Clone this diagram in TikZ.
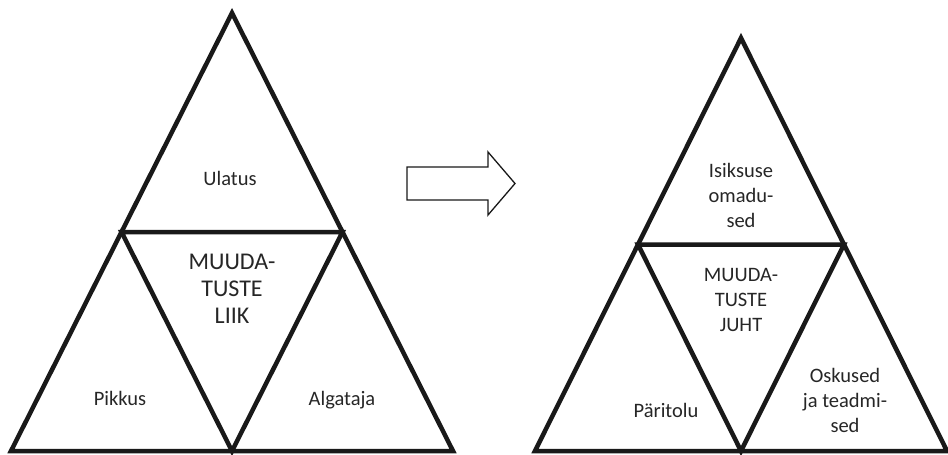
\documentclass[tikz,border=0pt]{standalone}
\usepackage{fontspec}
\setmainfont{Carlito}
\usetikzlibrary{calc}
\tikzset{
  tri/.style={line width=4.5pt, line join=miter, black!90},
  lbl/.style={font=\fontsize{20.5}{25}\selectfont, text=black!85, inner sep=0pt, align=center, anchor=base},
  biglbl/.style={font=\fontsize{24}{27}\selectfont, text=black!85, inner sep=0pt, align=center, anchor=base},
  blockarrow/.style={line width=1.3pt, black!90, line join=miter}
}
\begin{document}
\begin{tikzpicture}[x=1pt,y=-1pt]
\useasboundingbox (0,0) rectangle (948,455);
% left triangle
\coordinate (LA) at (232,13);
\coordinate (LL) at (11,451);
\coordinate (LR) at (453,451);
\coordinate (LML) at ($(LA)!0.5!(LL)$);
\coordinate (LMR) at ($(LA)!0.5!(LR)$);
\coordinate (LMB) at ($(LL)!0.5!(LR)$);
\draw[tri] (LA) -- (LL) -- (LR) -- cycle;
\draw[tri] (LML) -- (LMR) -- (LMB) -- cycle;
% right triangle
\coordinate (RA) at (741,38);
\coordinate (RL) at (535,451);
\coordinate (RR) at (947,451);
\coordinate (RML) at ($(RA)!0.5!(RL)$);
\coordinate (RMR) at ($(RA)!0.5!(RR)$);
\coordinate (RMB) at ($(RL)!0.5!(RR)$);
\draw[tri] (RA) -- (RL) -- (RR) -- cycle;
\draw[tri] (RML) -- (RMR) -- (RMB) -- cycle;
% block arrow between the two
\draw[blockarrow] (407,167) -- (488,167) -- (488,152) -- (515,183.5)
  -- (488,215) -- (488,200) -- (407,200) -- cycle;
% labels, left (base anchor = baseline of the last line)
\node[lbl] (ulatus) at (230,185) {Ulatus};
\node[biglbl] (liik) at (232,323) {MUUDA-\\TUSTE\\LIIK};
\node[lbl] (pikkus) at (120,405) {Pikkus};
\node[lbl] (algataja) at (342,405) {Algataja};
% labels, right
\node[lbl] (isiksus) at (741,227) {Isiksuse\\omadu-\\sed};
\node[lbl] (juht) at (741,331) {MUUDA-\\TUSTE\\JUHT};
\node[lbl] (paritolu) at (666,417) {Päritolu};
\node[lbl] (oskused) at (845,432) {Oskused\\ja teadmi-\\sed};
\end{tikzpicture}
\end{document}
